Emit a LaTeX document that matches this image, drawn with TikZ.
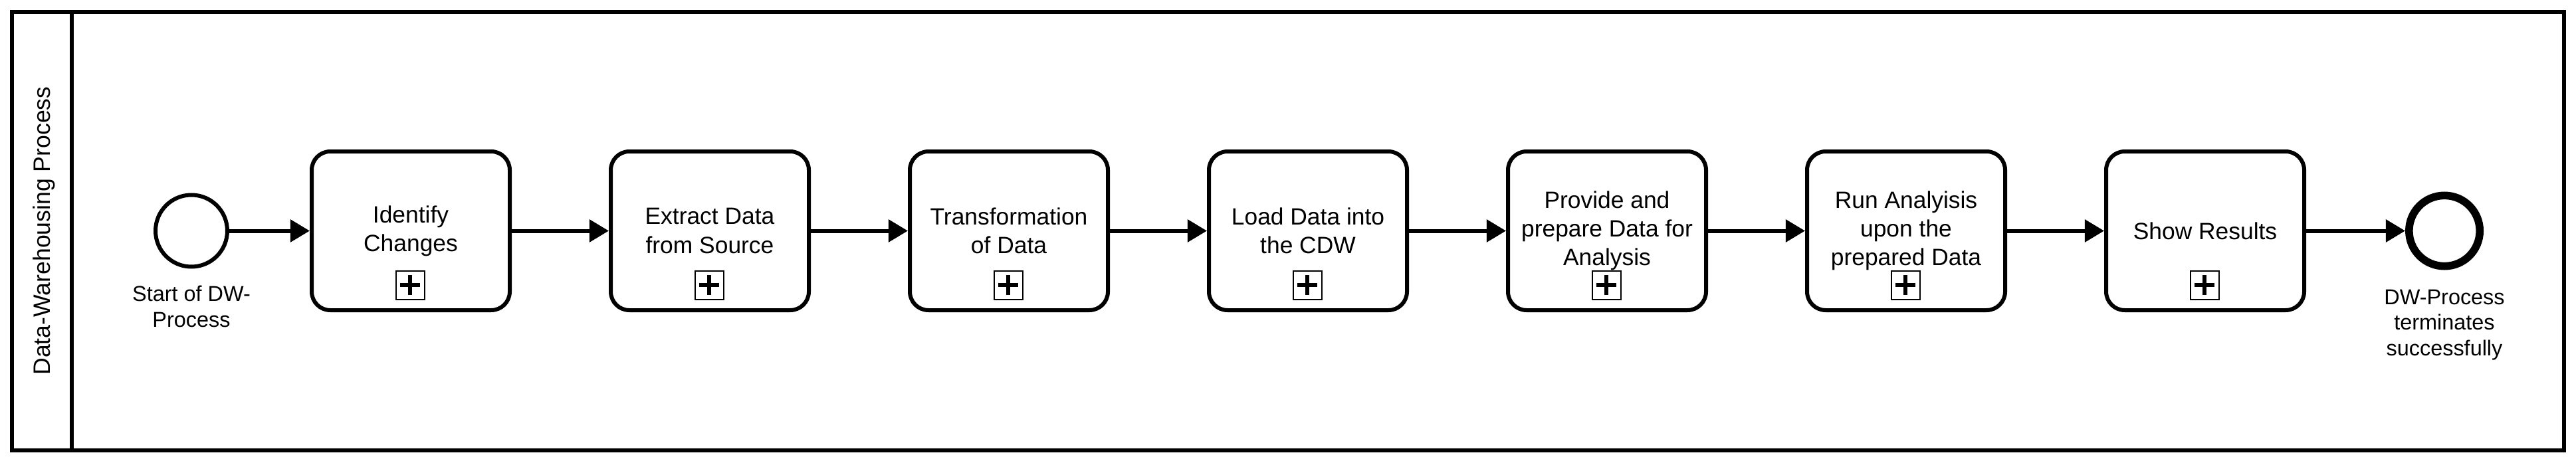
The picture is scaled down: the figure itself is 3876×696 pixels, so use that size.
\documentclass[tikz,border=0pt]{standalone}
\usepackage{fontspec}
\setmainfont{Liberation Sans}
\usetikzlibrary{arrows.meta,calc}
\begin{document}
\begin{tikzpicture}[x=0.25pt,y=-0.25pt,
  task/.style={draw, line width=1.5pt, rounded corners=7pt, minimum width=74.5pt, minimum height=59.75pt, align=center, inner sep=0pt, font=\fontsize{8.85pt}{10.8pt}\selectfont},
  startev/.style={draw, circle, line width=1.5pt, minimum size=27pt, inner sep=0pt},
  endev/.style={draw, circle, line width=2.9pt, minimum size=26.6pt, inner sep=0pt},
  evlabel/.style={anchor=north, align=center, inner sep=0pt, font=\fontsize{8.1pt}{9.7pt}\selectfont},
  flow/.style={line width=1.5pt, -{Triangle[length=7.3pt,width=8.3pt]}},
  plusbox/.style={draw, line width=0.5pt, minimum size=10.75pt, inner sep=0pt,
    path picture={
      \draw[line width=1.65pt] ([xshift=-3.65pt]path picture bounding box.center) -- ([xshift=3.65pt]path picture bounding box.center);
      \draw[line width=1.65pt] ([yshift=-3.75pt]path picture bounding box.center) -- ([yshift=3.75pt]path picture bounding box.center);
    }},
  poolline/.style={line width=1.5pt},
  poollabel/.style={rotate=90, anchor=base, inner sep=0pt, font=\fontsize{8.9pt}{10.8pt}\selectfont}
]
\useasboundingbox (0,0) rectangle (3876,696);

% pool
\draw[poolline] (18,18) rectangle (3858,678);
\draw[poolline] (108,18) -- (108,678);
\node[poollabel] (pl) at (75.5,347.5) {Data-Warehousing Process};

% events
\node[startev] (s) at (288,347.5) {};
\node[evlabel] (sl) at (288,429.5) {Start of DW-\\Process};
\node[endev] (e) at (3678,347.5) {};
\node[evlabel] (el) at (3678,435) {DW-Process\\terminates\\successfully};

% tasks
\node[task] (t1) at (618,347.5) {Identify\\Changes};
\node[task] (t2) at (1068,347.5) {Extract Data\\from Source};
\node[task] (t3) at (1518,347.5) {Transformation\\of Data};
\node[task] (t4) at (1968,347.5) {Load Data into\\the CDW};
\node[task] (t5) at (2418,347.5) {Provide and\\prepare Data for\\Analysis};
\node[task] (t6) at (2868,347.5) {Run Analyisis\\upon the\\prepared Data};
\node[task] (t7) at (3318,347.5) {Show Results};

\foreach \i in {1,...,7} {
  \node[plusbox] (m\i) at ($(t\i.center)+(-1,81.5)$) {};
}

% flows
\draw[flow] (s) -- (t1);
\draw[flow] (t1) -- (t2);
\draw[flow] (t2) -- (t3);
\draw[flow] (t3) -- (t4);
\draw[flow] (t4) -- (t5);
\draw[flow] (t5) -- (t6);
\draw[flow] (t6) -- (t7);
\draw[flow] (t7) -- (e);
\end{tikzpicture}
\end{document}
